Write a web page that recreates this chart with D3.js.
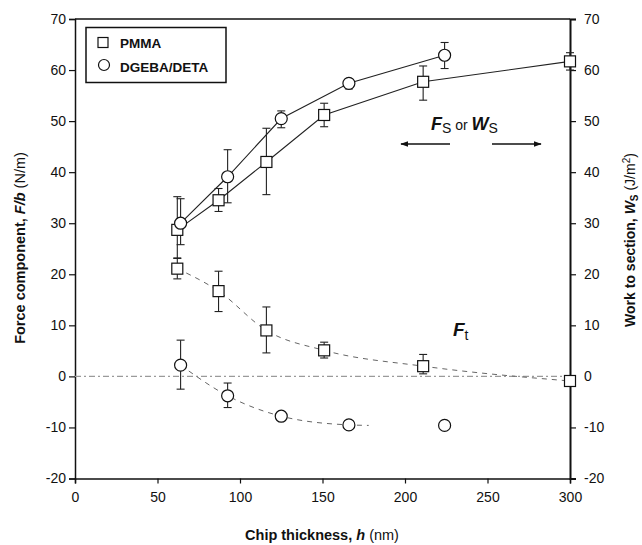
<!DOCTYPE html>
<html><head><meta charset="utf-8">
<script src="https://cdn.jsdelivr.net/npm/d3@7"></script>
<style>
body{margin:0;background:#fff;}
text{font-family:"Liberation Sans",Arial,sans-serif;fill:#111;}
</style></head>
<body><svg id="c" width="642" height="545"></svg>
<script>
// ---- data ----
const hPMMA      = [62, 87, 116, 151, 211, 300];
const pmmaFs     = [28.7, 34.5, 42.0, 51.2, 57.7, 61.7];
const pmmaFsLo   = [23.2, 32.3, 35.6, 48.9, 54.1, 60.0];
const pmmaFsHi   = [35.2, 36.8, 48.6, 53.5, 60.8, 63.4];
const pmmaFt     = [21.1, 16.7, 9.0, 5.1, 2.0, -0.9];
const pmmaFtLo   = [19.1, 12.7, 4.6, 3.6, 0.5, null];
const pmmaFtHi   = [23.1, 20.6, 13.6, 6.7, 4.3, null];

const hDGEBA     = [64, 92.5, 125, 166, 224];
const dgebaFs    = [30.0, 39.1, 50.5, 57.4, 62.9];
const dgebaFsLo  = [25.8, 34.0, 48.7, 56.3, 60.3];
const dgebaFsHi  = [34.8, 44.4, 52.0, 58.3, 65.4];
const dgebaFt    = [2.2, -3.8, -7.8, -9.5, -9.6];
const dgebaFtLo  = [-2.5, -6.1, null, -10.3, null];
const dgebaFtHi  = [7.1, -1.3, null, -8.7, null];
// dashed fit for DGEBA F_t (ends a little past 166 nm)
const dgebaFtFitH = [64, 92.5, 125, 166, 178];
const dgebaFtFitV = [2.2, -3.8, -7.8, -9.5, -9.6];

const xTicks = [0, 50, 100, 150, 200, 250, 300];
const yTicks = [-20, -10, 0, 10, 20, 30, 40, 50, 60, 70];
const legendLabels = ["PMMA", "DGEBA/DETA"];

// ---- layout ----
const svg = d3.select("#c");
const x = d3.scaleLinear().domain([0, 300]).range([75, 570]);
const y = d3.scaleLinear().domain([-20, 70]).range([478.5, 19]);

const zip = (h, v) => h.map((d, i) => [d, v[i]]);

// axes
const fmt = d => String(d);
const gL = svg.append("g").attr("transform", `translate(${x(0)},0)`)
  .call(d3.axisLeft(y).tickValues(yTicks).tickSize(6).tickPadding(3).tickFormat(fmt));
const gR = svg.append("g").attr("transform", `translate(${x(300)},0)`)
  .call(d3.axisRight(y).tickValues(yTicks).tickSize(6).tickPadding(8).tickFormat(fmt));
const gB = svg.append("g").attr("transform", `translate(0,${y(-20)})`)
  .call(d3.axisBottom(x).tickValues(xTicks).tickSize(5).tickPadding(9).tickFormat(fmt));
[gL, gR, gB].forEach(g => {
  g.selectAll("text").style("font-size", "14px").style("font-family", '"Liberation Sans",Arial,sans-serif').attr("fill", "#111");
  g.selectAll("line").attr("stroke", "#111").attr("stroke-width", 1.2);
  g.select(".domain").attr("stroke", "#111").attr("stroke-width", 1.5);
});
gR.select(".domain").attr("stroke-width", 2);
// top border
svg.append("line").attr("x1", x(0)).attr("x2", x(300)).attr("y1", y(70)).attr("y2", y(70))
  .attr("stroke", "#111").attr("stroke-width", 1.3);

// zero reference line
svg.append("line").attr("x1", x(0)).attr("x2", x(300)).attr("y1", y(0)).attr("y2", y(0))
  .attr("stroke", "#9a9a9a").attr("stroke-width", 1.2).attr("stroke-dasharray", "6,3,2,3");

const line = d3.line().x(d => x(d[0])).y(d => y(d[1]));
const curve = d3.line().x(d => x(d[0])).y(d => y(d[1])).curve(d3.curveMonotoneX);

// F_t dashed curves
svg.append("path").attr("d", curve(zip(hPMMA, pmmaFt))).attr("fill", "none")
  .attr("stroke", "#666").attr("stroke-width", 1).attr("stroke-dasharray", "5,5");
svg.append("path").attr("d", curve(zip(dgebaFtFitH, dgebaFtFitV))).attr("fill", "none")
  .attr("stroke", "#666").attr("stroke-width", 1).attr("stroke-dasharray", "5,5");
// F_s solid lines
svg.append("path").attr("d", line(zip(hPMMA, pmmaFs))).attr("fill", "none")
  .attr("stroke", "#222").attr("stroke-width", 1.1);
svg.append("path").attr("d", line(zip(hDGEBA, dgebaFs))).attr("fill", "none")
  .attr("stroke", "#222").attr("stroke-width", 1.1);

// error bars
function errBars(h, lo, hi) {
  h.forEach((hv, i) => {
    if (lo[i] == null) return;
    const g = svg.append("g").attr("stroke", "#222").attr("stroke-width", 1.1);
    g.append("line").attr("x1", x(hv)).attr("x2", x(hv)).attr("y1", y(lo[i])).attr("y2", y(hi[i]));
    [lo[i], hi[i]].forEach(v => g.append("line").attr("x1", x(hv) - 4).attr("x2", x(hv) + 4)
      .attr("y1", y(v)).attr("y2", y(v)));
  });
}
errBars(hPMMA, pmmaFsLo, pmmaFsHi);
errBars(hPMMA, pmmaFtLo, pmmaFtHi);
errBars(hDGEBA, dgebaFsLo, dgebaFsHi);
errBars(hDGEBA, dgebaFtLo, dgebaFtHi);

// markers
function squares(pts) {
  svg.append("g").selectAll("rect").data(pts).join("rect")
    .attr("x", d => x(d[0]) - 5.5).attr("y", d => y(d[1]) - 5.5)
    .attr("width", 11).attr("height", 11)
    .attr("fill", "#fff").attr("stroke", "#111").attr("stroke-width", 1.2);
}
function circles(pts) {
  svg.append("g").selectAll("circle").data(pts).join("circle")
    .attr("cx", d => x(d[0])).attr("cy", d => y(d[1])).attr("r", 6)
    .attr("fill", "#fff").attr("stroke", "#111").attr("stroke-width", 1.2);
}
squares(zip(hPMMA, pmmaFs));
squares(zip(hPMMA, pmmaFt));
circles(zip(hDGEBA, dgebaFs));
circles(zip(hDGEBA, dgebaFt));

// legend
svg.append("rect").attr("x", 86).attr("y", 27.5).attr("width", 140).attr("height", 55)
  .attr("fill", "#fff").attr("stroke", "#111").attr("stroke-width", 1.5);
svg.append("rect").attr("x", 98).attr("y", 37.5).attr("width", 10).attr("height", 10)
  .attr("fill", "#fff").attr("stroke", "#111").attr("stroke-width", 1.2);
svg.append("circle").attr("cx", 104).attr("cy", 65).attr("r", 5.5)
  .attr("fill", "#fff").attr("stroke", "#111").attr("stroke-width", 1.2);
legendLabels.forEach((t, i) => svg.append("text").attr("x", 120).attr("y", 48 + i * 23.5)
  .style("font-size", "13.5px").style("font-weight", "bold").text(t));

// axis titles
const yl = svg.append("text").attr("transform", "translate(25,248) rotate(-90)")
  .attr("text-anchor", "middle").style("font-size", "14.5px");
yl.append("tspan").style("font-weight", "bold").text("Force component, ");
yl.append("tspan").style("font-weight", "bold").style("font-style", "italic").text("F/b");
yl.append("tspan").text(" (N/m)");

const yr = svg.append("text").attr("transform", "translate(635,240) rotate(-90)")
  .attr("text-anchor", "middle").style("font-size", "14px");
yr.append("tspan").style("font-weight", "bold").text("Work to section, ");
yr.append("tspan").style("font-weight", "bold").style("font-style", "italic").text("W");
yr.append("tspan").style("font-weight", "bold").style("font-size", "10px").attr("dy", 3).text("S");
yr.append("tspan").attr("dy", -3).text(" (J/m");
yr.append("tspan").style("font-size", "10px").attr("dy", -5).text("2");
yr.append("tspan").attr("dy", 5).text(")");

const xl = svg.append("text").attr("x", 322).attr("y", 540).attr("text-anchor", "middle")
  .style("font-size", "14.5px");
xl.append("tspan").style("font-weight", "bold").text("Chip thickness, ");
xl.append("tspan").style("font-weight", "bold").style("font-style", "italic").text("h");
xl.append("tspan").text(" (nm)");

// annotations
const fs = svg.append("text").attr("x", 431).attr("y", 130).style("font-size", "18px");
fs.append("tspan").style("font-weight", "bold").style("font-style", "italic").text("F");
fs.append("tspan").style("font-size", "14px").attr("dy", 3).text("S");
fs.append("tspan").style("font-size", "14px").attr("dy", -3).text(" or ");
fs.append("tspan").style("font-weight", "bold").style("font-style", "italic").text("W");
fs.append("tspan").style("font-size", "14px").attr("dy", 3).text("S");

const defs = svg.append("defs");
defs.append("marker").attr("id", "ah").attr("viewBox", "0 0 10 10").attr("refX", 9).attr("refY", 5)
  .attr("markerWidth", 8).attr("markerHeight", 6).attr("orient", "auto")
  .append("path").attr("d", "M0,1.5 L10,5 L0,8.5 Z").attr("fill", "#111");
svg.append("line").attr("x1", 450).attr("x2", 401).attr("y1", 144).attr("y2", 144)
  .attr("stroke", "#111").attr("stroke-width", 1.3).attr("marker-end", "url(#ah)");
svg.append("line").attr("x1", 492).attr("x2", 541).attr("y1", 144).attr("y2", 144)
  .attr("stroke", "#111").attr("stroke-width", 1.3).attr("marker-end", "url(#ah)");

const ft = svg.append("text").attr("x", 453).attr("y", 336).style("font-size", "19px");
ft.append("tspan").style("font-weight", "bold").style("font-style", "italic").text("F");
ft.append("tspan").style("font-size", "14px").attr("dy", 4).text("t");
</script></body></html>
